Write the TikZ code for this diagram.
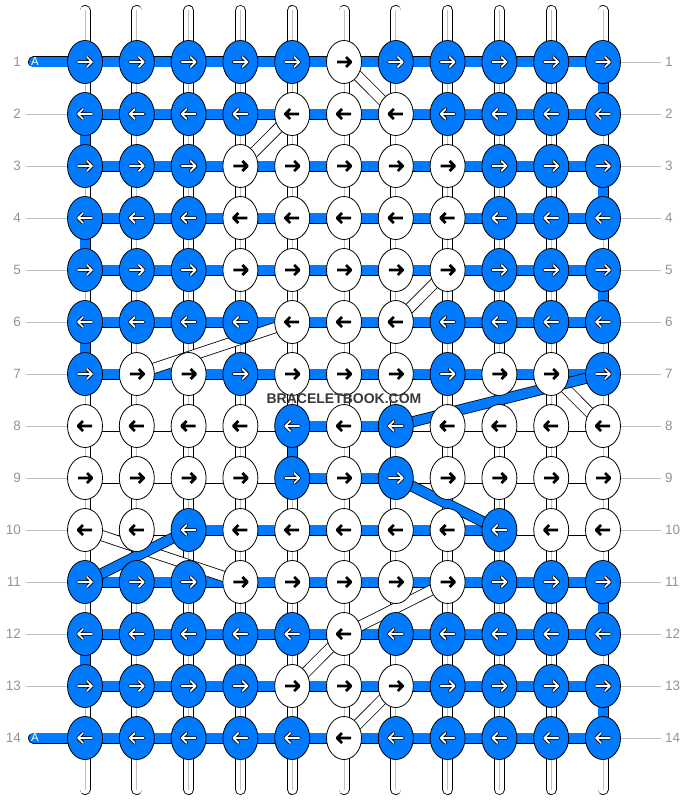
\documentclass[tikz,border=0pt]{standalone}
\usepackage{fontspec}
\setmainfont{Liberation Sans}
\usetikzlibrary{shapes}
\definecolor{thread}{RGB}{0,123,255}

\begin{document}
\begin{tikzpicture}[x=1pt,y=-1pt]
    \tikzstyle{knot} = [ellipse,draw=black,line width=0.8pt,minimum width=35pt,minimum height=43pt,inner sep=0pt]
    \tikzstyle{knotb} = [knot,fill=thread]
    \tikzstyle{knotw} = [knot,fill=white]
    \tikzstyle{arrb} = [draw=black,line width=3.4pt,line cap=round,line join=round,postaction={draw=white,line width=1.7pt}]
    \tikzstyle{arrw} = [draw=black,line width=2.7pt,line join=round]
    \tikzstyle{strand} = [draw=black,line width=0.8pt,double distance=9.4pt]
    \tikzstyle{segb} = [strand,double=thread]
    \tikzstyle{segw} = [strand,double=white]
    \tikzstyle{guide} = [draw=black!25,line width=0.8pt]
    \tikzstyle{lbl} = [text=black!42,font=\fontsize{13.5}{15}\selectfont,inner sep=0pt]

    \useasboundingbox (0,0) rectangle (688,800);

    % knot positions
    \foreach \r in {1,...,14}
        \foreach \c in {1,...,11}
            \coordinate (p\r-\c) at ({85+(\c-1)*51.8},{62+(\r-1)*52});

    % base strings
    \foreach \c in {1,...,11} {
        \coordinate (top\c) at ({85+(\c-1)*51.8},10.5);
        \coordinate (bot\c) at ({85+(\c-1)*51.8},789.5);
        \draw[segw,line cap=round] (top\c) -- (bot\c);
        \draw[draw=black!25,line width=0.9pt] (top\c) -- (bot\c);
    }

    % row numbers
    \foreach \r in {1,...,14} {
        \node[lbl,anchor=east] (l\r) at (21,{62+(\r-1)*52}) {\r};
        \node[lbl,anchor=west] (rl\r) at (665,{62+(\r-1)*52}) {\r};
        \draw[guide] (p\r-11) -- ([xshift=-4pt]rl\r.west);
    }
    \foreach \r in {2,...,13}
        \draw[guide] ([xshift=5pt]l\r.east) -- (p\r-1);

    % thread ends
    \coordinate (endA1) at (33.5,62);
    \coordinate (endA14) at (33.5,738);
    \draw[segb,line cap=round] (endA1) -- (p1-1);
    \draw[segb,line cap=round] (endA14) -- (p14-1);

    % horizontal segments
    \foreach \r/\segs in {
        1/{b,b,b,b,b,b,b,b,b,b},
        2/{b,b,b,b,b,b,b,b,b,b},
        3/{b,b,b,b,b,b,b,b,b,b},
        4/{b,b,b,b,b,b,b,b,b,b},
        5/{b,b,b,b,b,b,b,b,b,b},
        6/{b,b,b,b,b,b,b,b,b,b},
        7/{b,b,b,b,b,b,b,b,b,b},
        8/{w,w,w,w,b,b,w,w,w,w},
        9/{w,w,w,w,b,b,w,w,w,w},
        10/{w,w,b,b,b,b,b,b,w,w},
        11/{b,b,b,b,b,b,b,b,b,b},
        12/{b,b,b,b,b,b,b,b,b,b},
        13/{b,b,b,b,b,b,b,b,b,b},
        14/{b,b,b,b,b,b,b,b,b,b}} {
        \foreach \s [count=\c] in \segs {
            \pgfmathtruncatemacro\n{\c+1}
            \draw[seg\s] (p\r-\c) -- (p\r-\n);
        }
    }

    % turns
    \foreach \a/\b/\c in {1/2/11, 2/3/1, 3/4/11, 4/5/1, 5/6/11, 6/7/1, 8/9/5, 11/12/11, 12/13/1, 13/14/11}
        \draw[segb] (p\a-\c) -- (p\b-\c);

    % crossings
    \foreach \a/\b in {1-6/2-7, 2-5/3-4, 5-8/6-7, 6-5/7-2, 7-10/8-11, 10-1/11-4, 11-8/12-6, 12-6/13-5, 13-7/14-6}
        \draw[segw] (p\a) -- (p\b);
    \foreach \a/\b in {7-11/8-7, 9-7/10-9, 10-3/11-1}
        \draw[segb] (p\a) -- (p\b);

    % knots
    \foreach \r/\knots in {
        1/{b,b,b,b,b,w,b,b,b,b,b},
        2/{b,b,b,b,w,w,w,b,b,b,b},
        3/{b,b,b,w,w,w,w,w,b,b,b},
        4/{b,b,b,w,w,w,w,w,b,b,b},
        5/{b,b,b,w,w,w,w,w,b,b,b},
        6/{b,b,b,b,w,w,w,b,b,b,b},
        7/{b,w,w,b,w,w,w,b,w,w,b},
        8/{w,w,w,w,b,w,b,w,w,w,w},
        9/{w,w,w,w,b,w,b,w,w,w,w},
        10/{w,w,b,w,w,w,w,w,b,w,w},
        11/{b,b,b,w,w,w,w,w,b,b,b},
        12/{b,b,b,b,b,w,b,b,b,b,b},
        13/{b,b,b,b,w,w,w,b,b,b,b},
        14/{b,b,b,b,b,w,b,b,b,b,b}} {
        \pgfmathsetmacro\d{ifthenelse(mod(\r,2)==1,1,-1)}
        \foreach \k [count=\c] in \knots {
            \node[knot\k] (k\r-\c) at (p\r-\c) {};
            \draw[arr\k] ([xshift=-7*\d]k\r-\c.center) -- ++(14*\d,0) ++(-5*\d,-5) -- ++(5*\d,5) -- ++(-5*\d,5);
        }
    }

    \node[font=\bfseries\fontsize{14}{16}\selectfont,text=black!78] (mark) at (344,399) {BRACELETBOOK.COM};
    \node[text=white,font=\fontsize{11.5}{13}\selectfont,inner sep=0pt] (a1) at (35,62) {A};
    \node[text=white,font=\fontsize{11.5}{13}\selectfont,inner sep=0pt] (a14) at (35,738) {A};
\end{tikzpicture}
\end{document}
